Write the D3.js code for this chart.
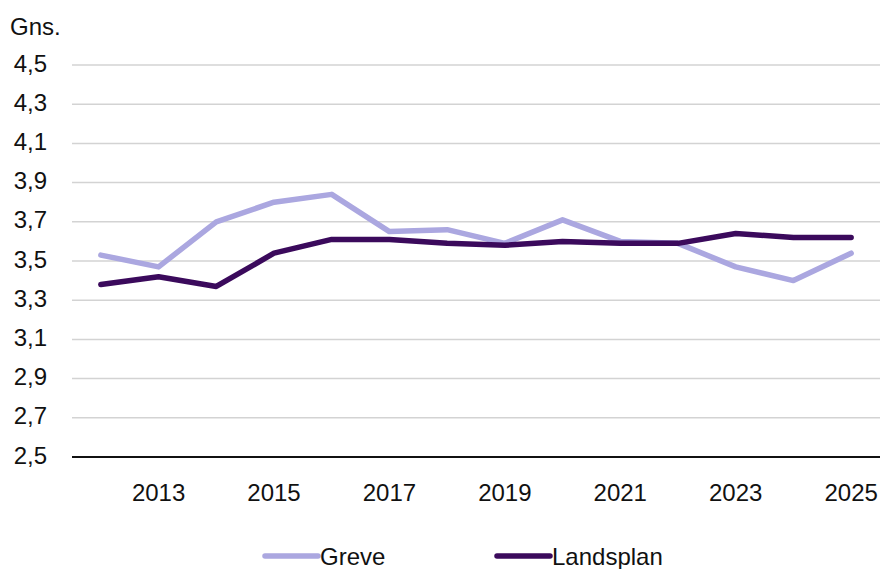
<!DOCTYPE html>
<html><head><meta charset="utf-8">
<script src="https://cdn.jsdelivr.net/npm/d3@7"></script>
<style>body{margin:0;background:#fff;} svg{display:block;} text{font-family:"Liberation Sans",Arial,sans-serif;fill:#111;}</style>
</head><body>
<svg id="c" width="883" height="569"></svg>
<script>
const years = [2012,2013,2014,2015,2016,2017,2018,2019,2020,2021,2022,2023,2024,2025];
const greve = [3.53,3.47,3.70,3.80,3.84,3.65,3.66,3.59,3.71,3.60,3.59,3.47,3.40,3.54];
const landsplan = [3.38,3.42,3.37,3.54,3.61,3.61,3.59,3.58,3.60,3.59,3.59,3.64,3.62,3.62];
const yTicks = [2.5,2.7,2.9,3.1,3.3,3.5,3.7,3.9,4.1,4.3,4.5];
const xTickYears = [2013,2015,2017,2019,2021,2023,2025];
const seriesNames = ["Greve","Landsplan"];
const colors = ["#aba7e0","#3b0a5c"];

const svg = d3.select("#c");
const x = d3.scaleBand().domain(years).range([72,880]);
const y = d3.scaleLinear().domain([2.5,4.5]).range([457,65]);
const fs = 24;

// gridlines
svg.append("g").selectAll("line").data(yTicks.filter(t=>t>2.5)).join("line")
  .attr("x1",72).attr("x2",880).attr("y1",d=>y(d)).attr("y2",d=>y(d))
  .attr("stroke","#d3d3d3").attr("stroke-width",1.5);

// y axis labels
const fmt = d => d3.format(".1f")(d).replace(".",",");
svg.append("g").selectAll("text").data(yTicks).join("text")
  .attr("x",47).attr("y",d=>y(d)-2).attr("text-anchor","end")
  .attr("dominant-baseline","central").attr("font-size",fs).text(fmt);

svg.append("text").attr("x",10).attr("y",35).attr("font-size",fs).text("Gns.");

// baseline
svg.append("line").attr("x1",72).attr("x2",880).attr("y1",y(2.5)).attr("y2",y(2.5))
  .attr("stroke","#111").attr("stroke-width",2);

// x labels
svg.append("g").selectAll("text").data(xTickYears).join("text")
  .attr("x",d=>x(d)+x.bandwidth()/2).attr("y",501).attr("text-anchor","middle")
  .attr("font-size",fs).text(d=>d);

// lines
const line = d3.line().x((d,i)=>x(years[i])+x.bandwidth()/2).y(d=>y(d));
[greve,landsplan].forEach((s,k)=>{
  svg.append("path").datum(s).attr("d",line).attr("fill","none")
    .attr("stroke",colors[k]).attr("stroke-width",5.5)
    .attr("stroke-linecap","round").attr("stroke-linejoin","round");
});

// legend
const legX = [265,497];
seriesNames.forEach((n,k)=>{
  svg.append("line").attr("x1",legX[k]).attr("x2",legX[k]+53).attr("y1",556).attr("y2",556)
    .attr("stroke",colors[k]).attr("stroke-width",5.5).attr("stroke-linecap","round");
  svg.append("text").attr("x",legX[k]+55).attr("y",565).attr("font-size",fs).text(n);
});
</script>
</body></html>
